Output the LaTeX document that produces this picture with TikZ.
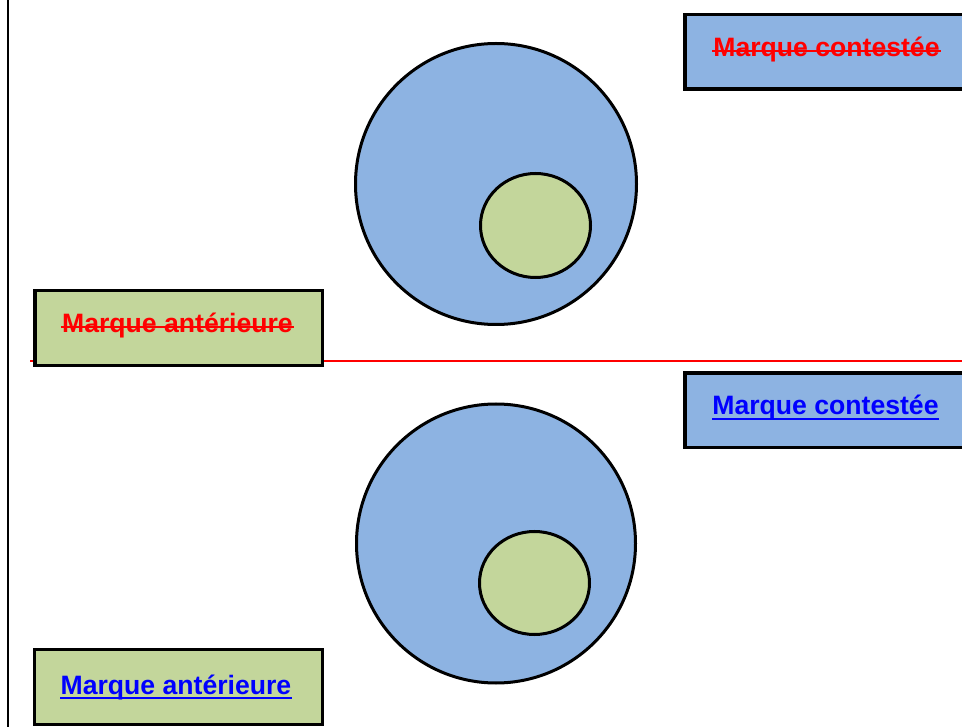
\documentclass[tikz,border=0pt]{standalone}
\usepackage{fontspec}
\setmainfont{Liberation Sans}
\usetikzlibrary{shapes.geometric}
\definecolor{boxblue}{HTML}{8DB3E2}
\definecolor{boxgreen}{HTML}{C3D69B}
\begin{document}
\begin{tikzpicture}[x=1pt,y=-1pt,
  bluebox/.style={draw=black,line width=3.5pt,fill=boxblue},
  greenbox/.style={draw=black,line width=3.5pt,fill=boxgreen},
  bigdisc/.style={draw=black,line width=3pt,fill=boxblue},
  smalldisc/.style={draw=black,line width=3pt,fill=boxgreen},
  lbl/.style={inner sep=0pt,anchor=base,font=\fontsize{26.6}{30}\selectfont\bfseries},
  strike/.style={red,line width=2pt},
  uline/.style={blue,line width=2.2pt}]
\useasboundingbox (0,0) rectangle (962,727);
% frame lines
\coordinate (vtop) at (8,-2);
\coordinate (vbot) at (8,729);
\draw[line width=2pt] (vtop) -- (vbot);
\coordinate (hl) at (30,361);
\coordinate (hr) at (964,361);
\draw[red,line width=1.5pt] (hl) -- (hr);
% top half
\node[bigdisc,circle,minimum size=281pt,inner sep=0pt] (c1) at (496,184) {};
\node[smalldisc,ellipse,minimum width=110pt,minimum height=104pt,inner sep=0pt] (e1) at (535.5,225.5) {};
\node[bluebox,minimum width=285pt,minimum height=74.7pt,anchor=north west,inner sep=0pt] (b1) at (683.3,12.8) {};
\node[greenbox,minimum width=287.5pt,minimum height=75pt,anchor=north west,inner sep=0pt] (g1) at (33.3,289) {};
\node[lbl,text=red] (t1) at (826.5,57) {Marque contestée};
\draw[strike] ([xshift=-1pt,yshift=6pt]t1.base west) -- ([xshift=1pt,yshift=6pt]t1.base east);
\node[lbl,text=red] (t2) at (177.5,333) {Marque antérieure};
\draw[strike] ([xshift=-1pt,yshift=6pt]t2.base west) -- ([xshift=1pt,yshift=6pt]t2.base east);
% bottom half
\node[bigdisc,circle,minimum size=279pt,inner sep=0pt] (c2) at (496,543.5) {};
\node[smalldisc,ellipse,minimum width=110pt,minimum height=103pt,inner sep=0pt] (e2) at (534.5,583) {};
\node[bluebox,minimum width=285pt,minimum height=74.3pt,anchor=north west,inner sep=0pt] (b2) at (683.3,371.5) {};
\node[greenbox,minimum width=288pt,minimum height=75pt,anchor=north west,inner sep=0pt] (g2) at (32.8,647.5) {};
\node[lbl,text=blue] (t3) at (825.5,415) {Marque contestée};
\draw[uline] ([yshift=-4pt]t3.base west) -- ([yshift=-4pt]t3.base east);
\node[lbl,text=blue] (t4) at (176,694) {Marque antérieure};
\draw[uline] ([yshift=-4pt]t4.base west) -- ([yshift=-4pt]t4.base east);
\end{tikzpicture}
\end{document}
